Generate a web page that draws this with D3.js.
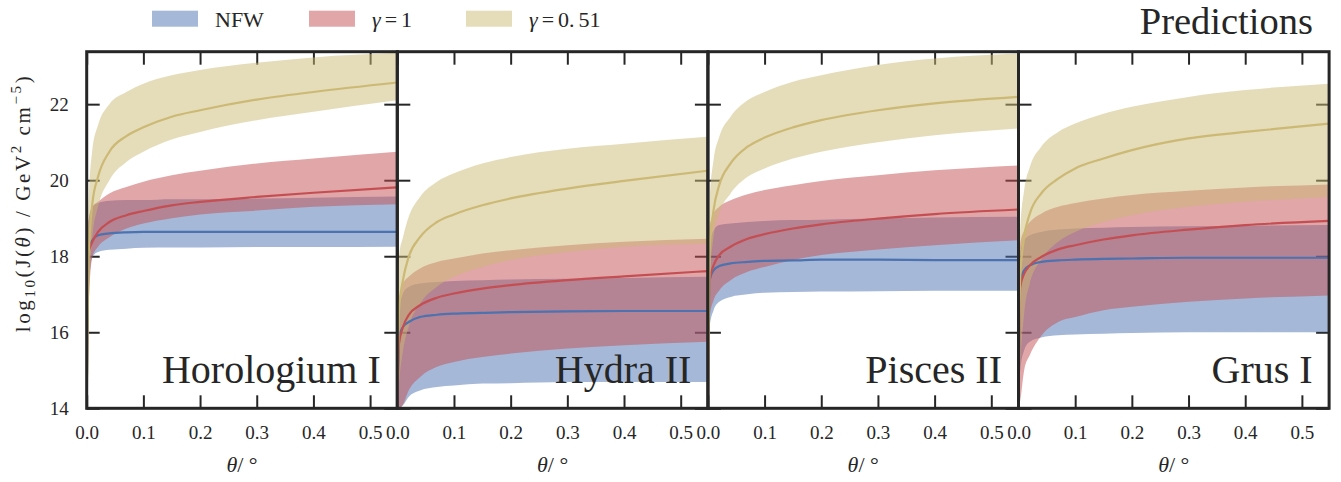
<!DOCTYPE html>
<html>
<head>
<meta charset="utf-8">
<script src="https://cdn.jsdelivr.net/npm/d3@7"></script>
<style>
  body { margin: 0; background: #fff; }
  text { font-family: "Liberation Serif", "DejaVu Serif", serif; fill: #262626; }
</style>
</head>
<body>
<script>
// angular radius grid (degrees), shared by all panels
const theta = [0, 0.003, 0.01, 0.02, 0.04, 0.07, 0.1, 0.15, 0.2, 0.3, 0.4, 0.548];

// each set: [lower, median, upper] of log10 J
const horoNFW = [
  [14, 17.0, 17.98, 18.11, 18.17, 18.2, 18.22, 18.23, 18.23, 18.24, 18.24, 18.25],
  [14, 18.16, 18.42, 18.55, 18.6, 18.63, 18.64, 18.64, 18.64, 18.64, 18.64, 18.64],
  [14, 18.9, 19.3, 19.4, 19.46, 19.48, 19.48, 19.5, 19.5, 19.52, 19.54, 19.57]];
const horoG1 = [
  [14, 16.5, 17.98, 18.25, 18.5, 18.73, 18.86, 19.0, 19.1, 19.2, 19.3, 19.37],
  [14, 18.07, 18.38, 18.64, 18.9, 19.08, 19.19, 19.34, 19.43, 19.56, 19.67, 19.81],
  [14, 18.9, 19.3, 19.43, 19.65, 19.82, 19.96, 20.13, 20.25, 20.44, 20.57, 20.75]];
const horoG051 = [
  [14, 16.5, 18.5, 19.3, 20.0, 20.48, 20.75, 21.07, 21.27, 21.58, 21.8, 22.1],
  [14, 17.8, 19.39, 20.09, 20.75, 21.16, 21.39, 21.67, 21.84, 22.12, 22.32, 22.57],
  [14, 19.3, 20.8, 21.45, 22.0, 22.32, 22.54, 22.76, 22.9, 23.09, 23.23, 23.35]];

const hydraNFW = [
  [14, 14, 14.08, 14.3, 14.47, 14.56, 14.6, 14.65, 14.66, 14.69, 14.69, 14.69],
  [14, 15.88, 16.14, 16.27, 16.4, 16.46, 16.49, 16.51, 16.53, 16.55, 16.56, 16.56],
  [14, 16.58, 17.02, 17.19, 17.28, 17.32, 17.35, 17.37, 17.39, 17.41, 17.43, 17.46]];
const hydraG1 = [
  [14, 14, 14.1, 14.47, 14.82, 15.09, 15.22, 15.35, 15.44, 15.57, 15.66, 15.75],
  [14, 15.7, 16.14, 16.45, 16.71, 16.91, 17.02, 17.15, 17.24, 17.37, 17.47, 17.61],
  [14, 16.84, 17.28, 17.46, 17.68, 17.85, 17.94, 18.07, 18.16, 18.29, 18.38, 18.46]];
const hydraG051 = [
  [14, 14.65, 15.5, 16.14, 16.75, 17.2, 17.46, 17.72, 17.9, 18.11, 18.25, 18.33],
  [14, 16.58, 17.37, 17.98, 18.5, 18.9, 19.1, 19.34, 19.52, 19.78, 19.98, 20.25],
  [14, 18.0, 18.5, 19.03, 19.56, 19.96, 20.18, 20.44, 20.61, 20.83, 20.96, 21.14]];

const piscesNFW = [
  [14, 16.14, 16.58, 16.8, 16.93, 17.0, 17.04, 17.06, 17.07, 17.08, 17.09, 17.09],
  [14, 17.37, 17.63, 17.74, 17.81, 17.85, 17.88, 17.89, 17.91, 17.91, 17.9, 17.9],
  [14, 18.33, 18.68, 18.82, 18.86, 18.9, 18.93, 18.95, 18.96, 18.99, 19.02, 19.04]];
const piscesG1 = [
  [14, 16.4, 16.84, 17.1, 17.37, 17.59, 17.72, 17.9, 18.03, 18.18, 18.29, 18.42],
  [14, 17.37, 17.76, 18.03, 18.25, 18.46, 18.58, 18.73, 18.84, 18.99, 19.11, 19.23],
  [14, 18.77, 19.12, 19.3, 19.47, 19.63, 19.74, 19.87, 19.98, 20.13, 20.26, 20.39]];
const piscesG051 = [
  [14, 17.28, 18.5, 19.12, 19.65, 20.09, 20.31, 20.57, 20.75, 21.0, 21.18, 21.36],
  [14, 18.16, 19.21, 19.87, 20.44, 20.88, 21.12, 21.39, 21.58, 21.84, 22.02, 22.19],
  [14, 19.47, 20.53, 21.14, 21.67, 22.1, 22.32, 22.59, 22.76, 23.03, 23.2, 23.33]];

const grusNFW = [
  [14, 15.0, 15.53, 15.75, 15.86, 15.92, 15.94, 15.96, 15.98, 16.0, 16.0, 16.0],
  [14, 17.37, 17.63, 17.76, 17.85, 17.89, 17.91, 17.93, 17.94, 17.96, 17.96, 17.96],
  [14, 18.07, 18.42, 18.55, 18.64, 18.7, 18.73, 18.75, 18.77, 18.79, 18.8, 18.82]];
const grusG1 = [
  [14, 14.2, 15.0, 15.4, 15.9, 16.27, 16.4, 16.58, 16.67, 16.8, 16.89, 16.97],
  [14, 17.19, 17.54, 17.76, 17.98, 18.18, 18.29, 18.44, 18.55, 18.7, 18.82, 18.93],
  [14, 18.33, 18.68, 18.9, 19.12, 19.3, 19.4, 19.52, 19.61, 19.72, 19.81, 19.89]];
const grusG051 = [
  [14, 15.09, 16.49, 17.28, 17.9, 18.38, 18.64, 18.9, 19.08, 19.3, 19.43, 19.56],
  [14, 17.46, 18.5, 19.12, 19.65, 20.04, 20.31, 20.57, 20.79, 21.1, 21.27, 21.49],
  [14, 18.68, 19.74, 20.35, 20.88, 21.27, 21.49, 21.75, 21.93, 22.19, 22.37, 22.54]];

const galaxies = ["Horologium I", "Hydra II", "Pisces II", "Grus I"];
const profiles = ["NFW", "γ=1", "γ=0.51"];
const colors = ["#4C72B0", "#C44E52", "#CCB974"];
const xTicks = [0, 0.1, 0.2, 0.3, 0.4, 0.5];
const yTicks = [14, 16, 18, 20, 22];

const panelSets = [
  [horoNFW, horoG1, horoG051],
  [hydraNFW, hydraG1, hydraG051],
  [piscesNFW, piscesG1, piscesG051],
  [grusNFW, grusG1, grusG051]
];

var W = 1341, H = 482;
var left0 = 86.7, pw = 310.6, pTop = 51.7, pBot = 408.3;
var ink = "#262626";

var svg = d3.select("body").append("svg").attr("width", W).attr("height", H);
var y = d3.scaleLinear().domain([14, 23.38]).range([pBot, pTop]);

function styleAxis(g){
    g.select(".domain").remove();
    g.selectAll("line").attr("stroke", ink).attr("stroke-width", 2);
    g.attr("font-family", null);
    g.selectAll("text").attr("fill", ink).attr("font-size", 19);
}

galaxies.forEach(function(name, i){
    var x0 = left0 + i * pw;
    var x = d3.scaleLinear().domain([0, 0.548]).range([x0, x0 + pw]);
    var g = svg.append("g");

    svg.append("clipPath").attr("id", "clip" + i)
        .append("rect").attr("x", x0).attr("y", pTop).attr("width", pw).attr("height", pBot - pTop);

    //刻度（画在填充下面）
    g.append("g").attr("transform", "translate(0," + pBot + ")")
        .call(d3.axisBottom(x).tickValues(xTicks).tickFormat(d3.format(".1f"))
            .tickSizeInner(-13).tickSizeOuter(0).tickPadding(17))
        .call(styleAxis);
    g.append("g").attr("transform", "translate(0," + pTop + ")")
        .call(d3.axisTop(x).tickValues(xTicks).tickFormat("").tickSizeInner(-13).tickSizeOuter(0))
        .call(styleAxis);
    g.append("g").attr("transform", "translate(" + x0 + ",0)")
        .call(d3.axisLeft(y).tickValues(yTicks).tickFormat(i == 0 ? d3.format("d") : "")
            .tickSizeInner(-13).tickSizeOuter(0).tickPadding(18))
        .call(styleAxis);
    g.append("g").attr("transform", "translate(" + (x0 + pw) + ",0)")
        .call(d3.axisRight(y).tickValues(yTicks).tickFormat("").tickSizeInner(-13).tickSizeOuter(0))
        .call(styleAxis);

    var sets = panelSets[i];
    var plot = g.append("g").attr("clip-path", "url(#clip" + i + ")");

    var area = d3.area()
        .x(function(d, k){ return x(theta[k]); })
        .y0(function(d){ return y(d[0]); })
        .y1(function(d){ return y(d[1]); })
        .curve(d3.curveMonotoneX);
    var line = d3.line()
        .x(function(d, k){ return x(theta[k]); })
        .y(function(d){ return y(d); })
        .curve(d3.curveMonotoneX);

    sets.forEach(function(s, j){
        var band = theta.map(function(t, k){ return [s[0][k], s[2][k]]; });
        plot.append("path").datum(band)
            .attr("d", area)
            .attr("fill", colors[j])
            .attr("fill-opacity", 0.5);
    });
    sets.forEach(function(s, j){
        plot.append("path").datum(s[1])
            .attr("d", line)
            .attr("fill", "none")
            .attr("stroke", colors[j])
            .attr("stroke-width", 2.2);
    });

    //名称
    g.append("text")
        .attr("x", x0 + pw - 16.5)
        .attr("y", 382.7)
        .attr("text-anchor", "end")
        .attr("font-size", 40)
        .text(name);

    //x 轴标题
    var xl = g.append("text")
        .attr("x", x0 + pw / 2)
        .attr("y", 472)
        .attr("text-anchor", "middle")
        .attr("font-size", 22);
    xl.append("tspan").attr("font-style", "italic").text("θ");
    xl.append("tspan").text("/ °");

    g.append("rect")
        .attr("x", x0).attr("y", pTop).attr("width", pw).attr("height", pBot - pTop)
        .attr("fill", "none").attr("stroke", ink).attr("stroke-width", 3);
});

// y label
var yl = svg.append("text")
    .attr("transform", "translate(30,203) rotate(-90)")
    .attr("text-anchor", "middle")
    .attr("font-size", 21)
    .attr("letter-spacing", 2.6);
yl.append("tspan").text("log");
yl.append("tspan").attr("font-size", 15).attr("dy", 5).text("10");
yl.append("tspan").attr("dy", -5).text("(J(");
yl.append("tspan").attr("font-style", "italic").text("θ");
yl.append("tspan").text(") / GeV");
yl.append("tspan").attr("font-size", 15).attr("dy", -9).text("2");
yl.append("tspan").attr("dy", 9).text(" cm");
yl.append("tspan").attr("font-size", 15).attr("dy", -9).text("−5");
yl.append("tspan").attr("dy", 9).text(")");

// legend
profiles.forEach(function(p, j){
    var lx = 152 + j * 157;
    svg.append("rect")
        .attr("x", lx).attr("y", 10.7).attr("width", 46).attr("height", 16)
        .attr("fill", colors[j]).attr("fill-opacity", 0.5);
    var t = svg.append("text").attr("x", lx + 63).attr("y", 27.3).attr("font-size", 22);
    if (j == 0) {
        t.text(p);
    } else {
        t.append("tspan").attr("font-style", "italic").text("γ");
        t.append("tspan").attr("dx", 4).text("=");
        if (j == 1) {
            t.append("tspan").attr("dx", 4).text("1");
        } else {
            t.append("tspan").attr("dx", 4).text("0.");
            t.append("tspan").attr("dx", 4).text("51");
        }
    }
});

svg.append("text")
    .attr("x", 1313).attr("y", 34.3)
    .attr("text-anchor", "end")
    .attr("font-size", 38.5)
    .text("Predictions");
</script>
</body>
</html>
